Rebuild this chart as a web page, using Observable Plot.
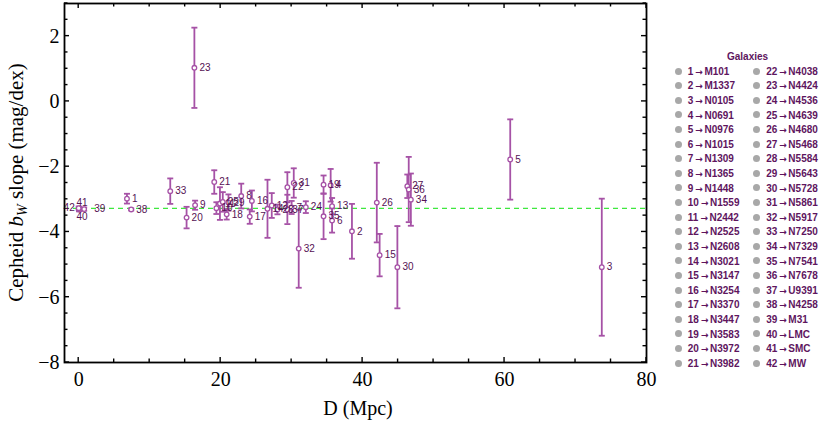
<!DOCTYPE html>
<html><head><meta charset="utf-8">
<script src="https://cdn.jsdelivr.net/npm/d3@7"></script>
<script src="https://cdn.jsdelivr.net/npm/@observablehq/plot@0.6"></script>
<style>
body{margin:0;background:#fff;}
#wrap{position:relative;width:830px;height:426px;overflow:hidden;}
#legend{position:absolute;left:0;top:0;font-family:"Liberation Sans",Arial,sans-serif;font-weight:bold;font-size:10px;color:#5e155e;}
.ltitle{position:absolute;left:727px;top:51px;}
.lrow{position:absolute;height:14px;line-height:14px;white-space:nowrap;}
.ldot{display:inline-block;width:7px;height:7px;border-radius:50%;background:#a8a8a8;vertical-align:middle;margin-right:6px;position:relative;top:-1px;}
.arr{font-family:"DejaVu Sans",sans-serif;font-weight:bold;font-size:9px;margin:0 1.5px 0 2px;}
</style></head><body><div id="wrap"></div>
<script>
const names = ["M101","M1337","N0105","N0691","N0976","N1015","N1309","N1365","N1448","N1559","N2442","N2525","N2608","N3021","N3147","N3254","N3370","N3447","N3583","N3972","N3982","N4038","N4424","N4536","N4639","N4680","N5468","N5584","N5643","N5728","N5861","N5917","N7250","N7329","N7541","N7678","U9391","N4258","M31","LMC","SMC","MW"];
const distance = [6.8, 38.5, 73.7, 35.5, 60.8, 35.7, 30.0, 22.9, 16.4, 19.4, 19.9, 27.2, 35.7, 26.6, 42.4, 24.4, 24.1, 20.85, 34.5, 15.2, 19.1, 29.4, 16.3, 32.0, 20.3, 42.0, 46.3, 28.0, 21.1, 44.9, 30.3, 31.0, 12.9, 46.8, 34.5, 46.5, 29.4, 7.4, 0.77, 0.05, 0.06, 0.0];
const slope = [-2.98, -3.98, -5.08, -2.57, -1.78, -3.65, -3.25, -2.90, -3.18, -3.27, -3.13, -3.19, -3.21, -3.29, -4.71, -3.05, -3.53, -3.46, -2.55, -3.56, -2.47, -2.63, 1.03, -3.24, -3.08, -3.10, -2.60, -3.31, -3.10, -5.08, -2.50, -4.51, -2.75, -3.01, -3.52, -2.70, -3.31, -3.31, -3.30, -3.31, -3.29, -3.27];
const slopeErr = [0.15, 0.84, 2.10, 0.50, 1.23, 0.37, 0.20, 0.38, 0.14, 0.18, 0.50, 0.38, 0.25, 0.89, 0.65, 0.32, 0.22, 0.16, 0.28, 0.33, 0.36, 0.46, 1.23, 0.18, 0.30, 1.22, 0.36, 0.15, 0.25, 1.26, 0.45, 1.20, 0.39, 0.80, 0.70, 1.00, 0.45, 0.03, 0.05, 0.06, 0.06, 0.05];
const meanSlope = -3.28;
const xTicks = [0, 20, 40, 60, 80];
const yTicks = [-8, -6, -4, -2, 0, 2];
const labelSide = {42: "left", 41: "above", 40: "below", 39: "farright"};

const data = names.map((n, i) => ({id: i + 1, name: n, D: distance[i], s: slope[i], e: slopeErr[i]}));

const barColor = "#a652a6", labelColor = "#551254";
const capSymbol = {draw(ctx, size) { const w = Math.sqrt(size / Math.PI); ctx.moveTo(-w, 0); ctx.lineTo(w, 0); }};

const W = 662, H = 426;
const mL = 64, mR = 16, mT = 3, mB = 64;
const side = k => data.filter(d => (labelSide[d.id] || "right") === k);
const txt = {x: "D", y: "s", text: "id", fill: labelColor, fontSize: 10, fontWeight: 500, fontFamily: "Liberation Sans, Arial, sans-serif"};

const chart = Plot.plot({
  width: W, height: H,
  marginLeft: mL, marginRight: mR, marginTop: mT, marginBottom: mB,
  x: {domain: [-2, 80]},
  y: {domain: [-8, 3]},
  style: {fontFamily: "Liberation Serif, Times New Roman, serif", fontSize: "20px", background: "white", overflow: "visible"},
  marks: [
    Plot.ruleY([meanSlope], {stroke: "#3ee83e", strokeWidth: 1.3, strokeDasharray: "5,4"}),
    Plot.ruleX(data, {x: "D", y1: d => d.s - d.e, y2: d => d.s + d.e, stroke: barColor, strokeWidth: 1.8}),
    Plot.dot(data, {x: "D", y: d => d.s - d.e, symbol: capSymbol, r: 3, stroke: barColor, strokeWidth: 1.8}),
    Plot.dot(data, {x: "D", y: d => d.s + d.e, symbol: capSymbol, r: 3, stroke: barColor, strokeWidth: 1.8}),
    Plot.dot(data, {x: "D", y: "s", r: 2.3, stroke: barColor, fill: "white", strokeWidth: 1.3}),
    Plot.text(side("right"), {...txt, dx: 5, textAnchor: "start"}),
    Plot.text(side("farright"), {...txt, dx: 10, textAnchor: "start"}),
    Plot.text(side("left"), {...txt, dx: -4, textAnchor: "end"}),
    Plot.text(side("above"), {...txt, dx: 3, dy: -6}),
    Plot.text(side("below"), {...txt, dx: 3, dy: 7}),
    Plot.frame({stroke: "black", strokeWidth: 1.8}),
    Plot.axisX({ticks: xTicks, tickSize: 0, tickPadding: 9, label: null, tickFormat: d => d}),
    Plot.axisY({ticks: yTicks, tickSize: 0, tickPadding: 5, label: null})
  ]
});

const wrap = document.getElementById("wrap");
wrap.appendChild(chart);

// inward frame ticks via Plot's own scales
const sx = chart.scale("x"), sy = chart.scale("y");
const svg = d3.select(chart);
const fL = mL, fR = W - mR, fT = mT, fB = H - mB;
const g = svg.append("g").attr("stroke", "black").attr("stroke-width", 1.4);
for (let v = 0; v <= 80; v += 5) {
  const px = sx.apply(v), len = v % 20 === 0 ? 5 : 3.5;
  g.append("line").attr("x1", px).attr("x2", px).attr("y1", fB).attr("y2", fB - len);
  g.append("line").attr("x1", px).attr("x2", px).attr("y1", fT).attr("y2", fT + len);
}
for (let v = -8; v <= 3; v += 0.5) {
  const py = sy.apply(v), len = v % 2 === 0 ? 5 : 3.5;
  g.append("line").attr("x1", fL).attr("x2", fL + len).attr("y1", py).attr("y2", py);
  g.append("line").attr("x1", fR).attr("x2", fR - len).attr("y1", py).attr("y2", py);
}

// axis titles
const cy = (fT + fB) / 2;
const yl = svg.append("text").attr("transform", "rotate(-90)").attr("x", -cy).attr("y", 23)
  .attr("text-anchor", "middle").attr("font-size", 21).attr("fill", "black");
yl.append("tspan").text("Cepheid ");
yl.append("tspan").attr("font-style", "italic").text("b");
yl.append("tspan").attr("font-style", "italic").attr("font-size", 14).attr("dy", 4).text("W");
yl.append("tspan").attr("dy", -4).text(" slope (mag/dex)");
svg.append("text").attr("x", (fL + fR) / 2 + 3).attr("y", 415).attr("text-anchor", "middle")
  .attr("font-size", 20).attr("fill", "black").text("D (Mpc)");

// legend
const leg = document.createElement("div");
leg.id = "legend";
let html = '<div class="ltitle">Galaxies</div>';
data.forEach((d, i) => {
  const col = i < 21 ? 0 : 1, row = i % 21;
  const lx = 674.8 + col * 78.4, ly = 64.7 + row * 14.6;
  html += `<div class="lrow" style="left:${lx}px;top:${ly}px"><span class="ldot"></span>${d.id}<span class="arr">→</span>${d.name}</div>`;
});
leg.innerHTML = html;
wrap.appendChild(leg);
</script>
</body></html>
